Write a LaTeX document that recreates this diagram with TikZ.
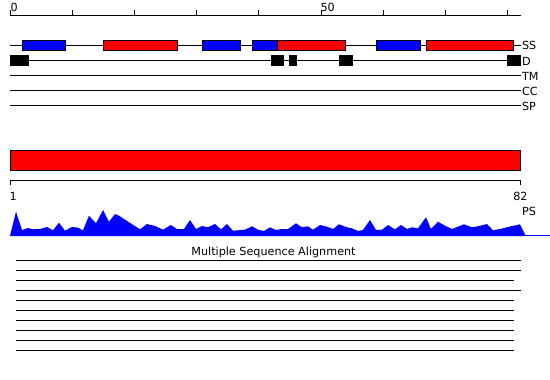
\documentclass[tikz,border=0pt]{standalone}
\usepackage{fontspec}
\setmainfont{DejaVu Sans}
\definecolor{ssred}{RGB}{255,0,0}
\definecolor{ssblue}{RGB}{0,0,255}
\begin{document}
\begin{tikzpicture}[x=1pt,y=-1pt,line width=1pt,
  trackline/.style={draw=black,line width=1pt},
  ssbox/.style={draw=black,line width=1pt},
  helixbox/.style={ssbox,fill=ssred},
  strandbox/.style={ssbox,fill=ssblue},
  disbox/.style={fill=black},
  lab/.style={font=\fontsize{11.2}{13}\selectfont,inner sep=0pt},
  msaline/.style={draw=black,line width=1pt}]
\useasboundingbox (0,0) rectangle (550,380);
% top ruler
\draw[trackline] (10.5,15) -- (521,15);
\foreach \k in {0,...,8}{\draw[trackline] (10.5+62.1*\k,10) -- (10.5+62.1*\k,15.5);}
\node[lab,anchor=base west] (t0) at (10,11.7) {0};
\node[lab,anchor=base west] (t50) at (320,11.7) {50};
% SS track
\draw[trackline] (10,45) -- (521,45);
\draw[strandbox] (22.3,40.7) rectangle (65.7,50.3);
\draw[helixbox] (103.3,40.7) rectangle (177.7,50.3);
\draw[strandbox] (202.3,40.7) rectangle (240.7,50.3);
\draw[strandbox] (252.3,40.7) rectangle (277.7,50.3);
\draw[helixbox] (277.7,40.7) rectangle (345.7,50.3);
\draw[strandbox] (376.3,40.7) rectangle (420.7,50.3);
\draw[helixbox] (426.3,40.7) rectangle (513.7,50.3);
\node[lab,anchor=base west] (lss) at (521.5,49.5) {SS};
% D track
\draw[trackline] (10,60.3) -- (521,60.3);
\fill[disbox] (10,55) rectangle (29,65.7);
\fill[disbox] (271,55) rectangle (283.7,65.7);
\fill[disbox] (289,55) rectangle (297,65.7);
\fill[disbox] (339,55) rectangle (352.7,65.7);
\fill[disbox] (507.3,55) rectangle (520.7,65.7);
\node[lab,anchor=base west] (ld) at (521.5,65) {D};
% TM, CC, SP
\draw[trackline] (10,75.3) -- (521,75.3);
\node[lab,anchor=base west] (ltm) at (521.5,80) {TM};
\draw[trackline] (10,90.3) -- (521,90.3);
\node[lab,anchor=base west] (lcc) at (521.5,95) {CC};
\draw[trackline] (10,105.3) -- (521,105.3);
\node[lab,anchor=base west] (lsp) at (521.5,110) {SP};
% domain bar
\draw[helixbox] (10.5,150.7) rectangle (520.7,170.3);
% second ruler
\draw[trackline] (10.5,185) -- (10.5,180.7) -- (520.7,180.7) -- (520.7,185);
\node[lab,anchor=base west] (r1) at (9,200) {1};
\node[lab,anchor=base] (r82) at (520.5,200) {82};
\node[lab,anchor=base west] (lps) at (521.5,215) {PS};
% profile
\fill[ssblue] (10,236) -- (16,211.7) -- (22,230) -- (28,228) -- (33,229.3) -- (40,229) -- (47,227) -- (53,230.3) -- (59,222.7) -- (65,230.7) -- (72,227) -- (78,227.7) -- (83,230.3) -- (89,215.7) -- (96,223.3) -- (103,210) -- (109,221.7) -- (115,214) -- (119,215.7) -- (140,229.3) -- (147,224) -- (155,226) -- (163,229.7) -- (171,225) -- (177,229) -- (184,229) -- (190,220) -- (196,229) -- (202,226) -- (208,227.3) -- (215,224) -- (221,229.3) -- (227,224) -- (233,230.7) -- (245,229.7) -- (252,226.3) -- (258,229.7) -- (264,231) -- (270,227.3) -- (276,230) -- (282,229) -- (288,229) -- (296,223.3) -- (302,227.3) -- (308,226.3) -- (313,229.7) -- (320,225) -- (327,226.7) -- (333,229) -- (339,224.3) -- (347,227.3) -- (352,228.3) -- (358,231) -- (363,230) -- (370,220) -- (376,230) -- (382,229.7) -- (388,225) -- (395,229.3) -- (401,225) -- (407,229) -- (412,227.3) -- (418,228.3) -- (426,217.3) -- (431,229) -- (438,221.7) -- (445,225.7) -- (452,229) -- (464,224.3) -- (472,227.3) -- (478,226.3) -- (487,224) -- (493,230.3) -- (500,229) -- (508,227) -- (520,224.3) -- (525,234.3) -- (525,236) -- cycle;
\draw[ssblue,line width=1pt] (10,235.5) -- (550,235.5);
% MSA
\node[lab,anchor=base] (msa) at (273.5,255) {Multiple Sequence Alignment};
\foreach \yy/\xe in {260/520.7,270/520.7,280/513.7,290/520.7,300/513.7,310/513.7,320/513.7,330/513.7,340/513.7,350/513.7}{\draw[msaline] (16,\yy) -- (\xe,\yy);}
\end{tikzpicture}
\end{document}
